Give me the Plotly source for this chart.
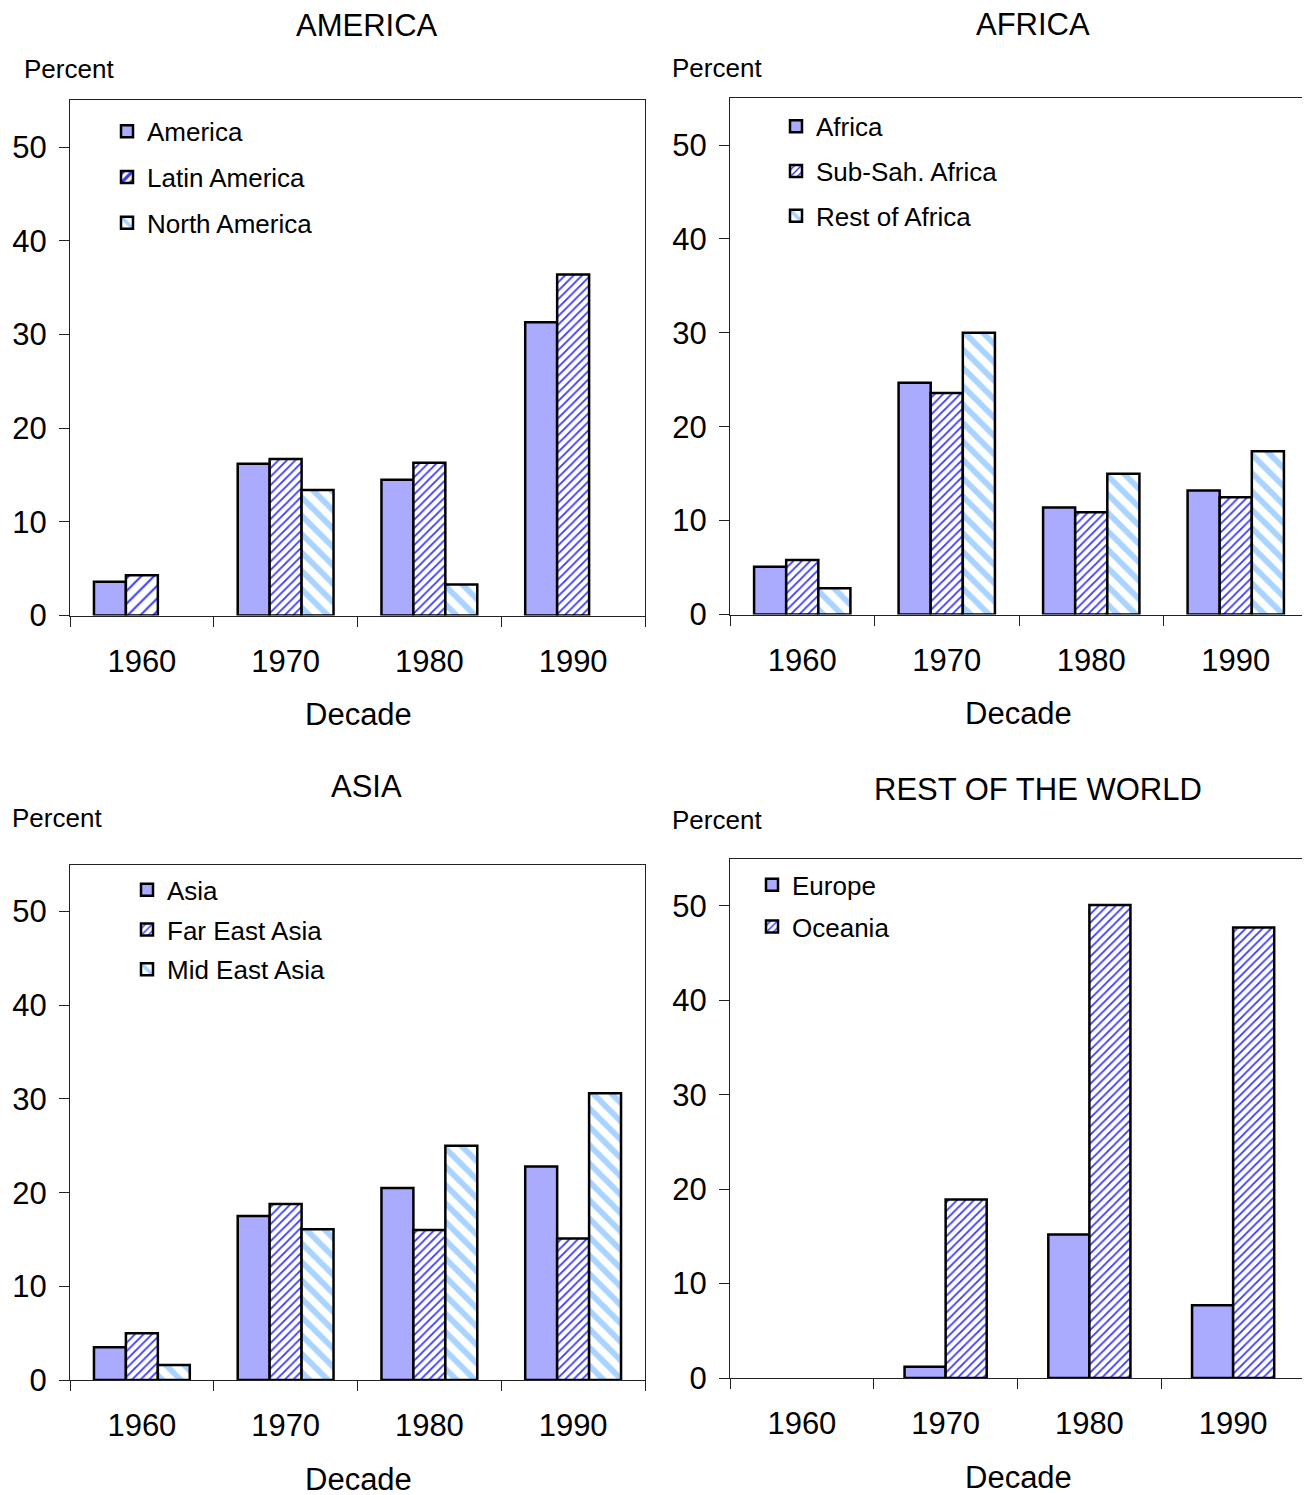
import plotly.graph_objects as go

PAGE_W = 1310
OFF = 8          # default page body margin in the browser
S = 0.9873       # observed vertical scale of the page photo
W = PAGE_W - OFF
H = int(round(1495 / S)) - 2 * OFF

decades = ["1960", "1970", "1980", "1990"]

# AMERICA panel
america_names = ["America", "Latin America", "North America"]
america = [3.6, 16.2, 14.5, 31.3]
latin_america = [4.3, 16.7, 16.3, 36.4]
north_america = [None, 13.4, 3.3, None]

# AFRICA panel
africa_names = ["Africa", "Sub-Sah. Africa", "Rest of Africa"]
africa = [5.1, 24.7, 11.4, 13.2]
sub_sah_africa = [5.8, 23.6, 10.9, 12.5]
rest_of_africa = [2.8, 30.0, 15.0, 17.4]

# ASIA panel
asia_names = ["Asia", "Far East Asia", "Mid East Asia"]
asia = [3.5, 17.5, 20.5, 22.8]
far_east_asia = [5.0, 18.8, 16.0, 15.1]
mid_east_asia = [1.6, 16.1, 25.0, 30.6]

# REST OF THE WORLD panel
row_names = ["Europe", "Oceania"]
europe = [None, 1.2, 15.2, 7.7]
oceania = [None, 18.9, 50.1, 47.7]

y_ticks = [0, 10, 20, 30, 40, 50]

FONT = "Arial, Liberation Sans, sans-serif"
SOLID = "#AAAAFF"


def style(si, first_sparse=False):
    if si == 0:
        return dict(color=SOLID, pattern=dict(shape=""))
    if si == 1:
        size = [9, 6, 6, 6] if first_sparse else 6
        sol = [0.22, 0.3, 0.3, 0.3] if first_sparse else 0.3
        return dict(color="#3333FF", pattern=dict(shape="/", fgcolor="#3838FF", bgcolor="white",
                                                  size=size, solidity=sol, fillmode="replace"))
    return dict(color="#A8D4FF", pattern=dict(shape="\\", fgcolor="#A8D4FF", bgcolor="white",
                                              size=13, solidity=0.45, fillmode="replace"))


def px_x(p):
    return min(1.0, max(0.0, (p - OFF) / W))


def px_y(p):
    return min(1.0, max(0.0, 1 - (p / S - OFF) / H))


fig = go.Figure()

panels = [
    # names, series, axis suffix, x domain px, y domain px, legend id, legend pos, gap
    (america_names, [america, latin_america, north_america], "", (70, 645), (100, 615),
     "legend", (107, 107.6), 9, True),
    (africa_names, [africa, sub_sah_africa, rest_of_africa], "2", (730, 1308), (98, 614),
     "legend2", (776, 102.6), 8, False),
    (asia_names, [asia, far_east_asia, mid_east_asia], "3", (70, 645), (864, 1379),
     "legend3", (127, 865.6), 3, False),
    (row_names, [europe, oceania], "4", (730, 1305), (858, 1377),
     "legend4", (752, 860.6), 5, False),
]

layout = {}
for pi, (names, series, suf, xd, yd, leg, lpos, gap, sparse) in enumerate(panels):
    n = len(series)
    w = 1.0 / (n + 1.5)
    for si, (nm, vals) in enumerate(zip(names, series)):
        st = style(si, sparse)
        marker = dict(color=st["color"], line=dict(color="black", width=2.5),
                      pattern=st["pattern"])
        fig.add_trace(go.Bar(
            x=decades, y=vals, name=nm,
            width=w, offset=-n * w / 2 + si * w,
            marker=marker,
            xaxis="x" + suf, yaxis="y" + suf,
            legend=leg, legendgroup=f"g{pi}_{si}",
            showlegend=True,
        ))
    layout["xaxis" + suf] = dict(
        domain=[px_x(xd[0]), px_x(xd[1])], anchor="y" + suf,
        type="category", categoryorder="array", categoryarray=decades,
        range=[-0.5, 3.5],
        showline=True, linecolor="#222", linewidth=1, mirror=True,
        ticks="outside", ticklen=10, tickwidth=1, tickcolor="#222",
        tickson="boundaries", ticklabelstandoff=18,
        tickfont=dict(family=FONT, size=31, color="black"),
        showgrid=False, zeroline=False, fixedrange=True,
    )
    layout["yaxis" + suf] = dict(
        domain=[px_y(yd[1]), px_y(yd[0])], anchor="x" + suf,
        range=[0, 55], tickvals=y_ticks,
        showline=True, linecolor="#222", linewidth=1, mirror=True,
        ticks="outside", ticklen=10, tickwidth=1, tickcolor="#222",
        ticklabelstandoff=6,
        tickfont=dict(family=FONT, size=31, color="black"),
        showgrid=False, zeroline=False, fixedrange=True,
    )
    layout[leg] = dict(
        x=px_x(lpos[0]), y=px_y(lpos[1]), xanchor="left", yanchor="top",
        bgcolor="rgba(0,0,0,0)", borderwidth=0,
        font=dict(family=FONT, size=26, color="black"),
        tracegroupgap=gap, traceorder="grouped", itemclick=False,
    )

fig.update_layout(**layout)

annotations = []
titles = [("AMERICA", 367, 25), ("AFRICA", 1033, 24), ("ASIA", 366, 786),
          ("REST OF THE WORLD", 1038, 789)]
for t, x, y in titles:
    annotations.append(dict(text=t, x=px_x(x), y=px_y(y), xref="paper", yref="paper",
                            xanchor="center", yanchor="middle", showarrow=False,
                            font=dict(family=FONT, size=31, color="black")))
percents = [(22, 69), (670, 68), (10, 817), (670, 819)]
for x, y in percents:
    annotations.append(dict(text="Percent", x=px_x(x), y=px_y(y), xref="paper", yref="paper",
                            xanchor="left", yanchor="middle", showarrow=False,
                            font=dict(family=FONT, size=26, color="black")))
decade_lbl = [(358, 714), (1018, 713), (358, 1478), (1018, 1476)]
for x, y in decade_lbl:
    annotations.append(dict(text="Decade", x=px_x(x), y=px_y(y), xref="paper", yref="paper",
                            xanchor="center", yanchor="middle", showarrow=False,
                            font=dict(family=FONT, size=31, color="black")))

fig.update_layout(
    width=W, height=H,
    margin=dict(l=0, r=0, t=0, b=0),
    paper_bgcolor="white", plot_bgcolor="white",
    barmode="overlay",
    annotations=annotations,
    font=dict(family=FONT, color="black"),
)

fig.write_html("out.html", config={"displayModeBar": False})
